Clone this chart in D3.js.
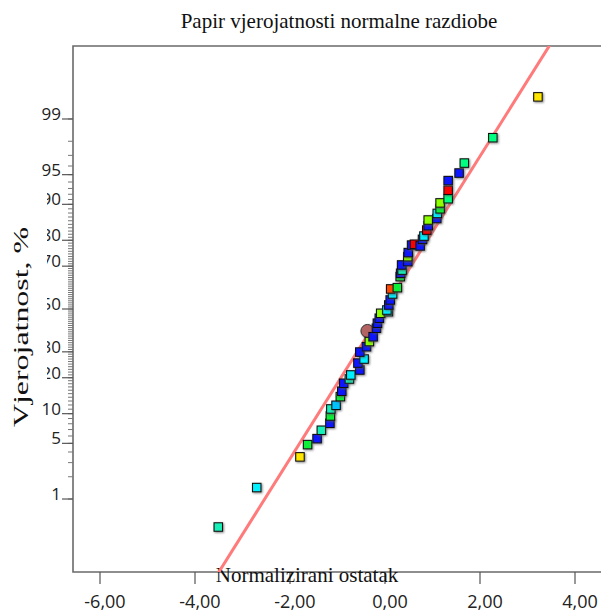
<!DOCTYPE html>
<html>
<head>
<meta charset="utf-8">
<script src="https://cdn.jsdelivr.net/npm/d3@7"></script>
<style>
  body { margin: 0; background: #fff; }
  .tick-label { font-family: 'Open Sans', sans-serif; font-size: 17px; fill: #222; }
  .xlab { font-size: 18px; }
  .title { font-family: 'Liberation Serif', serif; font-size: 21px; fill: #111; }
</style>
</head>
<body>
<svg width="601" height="614"></svg>
<script>
const svg = d3.select('svg')

// normalized residuals (x) and cumulative probability in % (y)
const residuals = [-3.51, -2.70, -1.79, -1.63, -1.43, -1.34, -1.16, -1.15, -1.14, -1.03,
  -0.94, -0.91, -0.87, -0.75, -0.72, -0.53, -0.57, -0.44, -0.53, -0.39,
  -0.33, -0.25, -0.18, -0.16, -0.12, -0.09, 0.07, 0.04, 0.08, 0.11,
  0.16, 0.12, 0.26, 0.32, 0.33, 0.36, 0.35, 0.48, 0.48, 0.49,
  0.56, 0.62, 0.74, 0.79, 0.82, 0.88, 0.91, 0.91, 1.09, 1.10,
  1.16, 1.16, 1.33, 1.33, 1.33, 1.56, 1.67, 2.27, 3.22]
const probabilities = [0.38, 1.44, 3.51, 4.84, 5.62, 6.88, 8.09, 9.51, 11.05, 11.92,
  14.16, 15.7, 18.16, 19.57, 20.96, 22.76, 25.4, 27.0, 29.9, 32.2,
  34.5, 36.7, 40.7, 43.1, 45.5, 47.9, 48.7, 49.5, 51.95, 54.4,
  57.3, 59.7, 60.3, 65.4, 66.9, 68.3, 70.5, 71.9, 73.9, 75.5,
  78.3, 78.6, 78.0, 80.3, 81.4, 83.3, 84.6, 86.2, 86.6, 87.9,
  89.0, 90.3, 91.15, 92.7, 94.2, 95.2, 96.3, 98.2, 99.53]
// colour group of each run
const groups = ['A', 'C', 'Y', 'G', 'B', 'A', 'B', 'G', 'A', 'D',
  'G', 'B', 'B', 'A', 'C', 'B', 'B', 'C', 'B', 'B',
  'L', 'B', 'B', 'B', 'B', 'L', 'A', 'C', 'B', 'B',
  'C', 'O', 'G', 'G', 'B', 'A', 'B', 'B', 'L', 'B',
  'B', 'R', 'B', 'B', 'C', 'R', 'B', 'L', 'B', 'C',
  'G', 'L', 'S', 'R', 'B', 'B', 'S', 'S', 'Y']

// the highlighted run (circle)
const highlight = { residual: -0.37, probability: 39.4 }

// fitted normal line: residual = mean + sd * z
const lineMean = -0.02
const lineSD = 1.08

const xTicks = [-6, -4, -2, 0, 2, 4]
const yMajor = [1, 5, 10, 20, 30, 50, 70, 80, 90, 95, 99]
const yMinor = d3.range(1, 100)

const palette = {
  B: '#0a18ff', C: '#00f0ff', A: '#18f0b8', D: '#00c4ff', G: '#10ee38',
  S: '#00ff80', L: '#8cff00', Y: '#ffe600', O: '#ff4800', R: '#ff0000'
}

// inverse normal cdf (Acklam)
function probit(p) {
  const a = [-39.69683028665376, 220.9460984245205, -275.9285104469687, 138.3577518672690, -30.66479806614716, 2.506628277459239]
  const b = [-54.47609879822406, 161.5858368580409, -155.6989798598866, 66.80131188771972, -13.28068155288572]
  const c = [-0.007784894002430293, -0.3223964580411365, -2.400758277161838, -2.549732539343734, 4.374664141464968, 2.938163982698783]
  const d = [0.007784695709041462, 0.3224671290700398, 2.445134137142996, 3.754408661907416]
  const pl = 0.02425
  let q, r
  if (p < pl) {
    q = Math.sqrt(-2 * Math.log(p))
    return (((((c[0]*q+c[1])*q+c[2])*q+c[3])*q+c[4])*q+c[5]) / ((((d[0]*q+d[1])*q+d[2])*q+d[3])*q+1)
  } else if (p <= 1 - pl) {
    q = p - 0.5; r = q * q
    return (((((a[0]*r+a[1])*r+a[2])*r+a[3])*r+a[4])*r+a[5])*q / (((((b[0]*r+b[1])*r+b[2])*r+b[3])*r+b[4])*r+1)
  } else {
    q = Math.sqrt(-2 * Math.log(1 - p))
    return -(((((c[0]*q+c[1])*q+c[2])*q+c[3])*q+c[4])*q+c[5]) / ((((d[0]*q+d[1])*q+d[2])*q+d[3])*q+1)
  }
}

// plot frame
const plotLeft = 73, plotTop = 46, plotBottom = 572, plotRight = 640

const xScale = d3.scaleLinear().domain([-6, 4]).range([100, 575])
const zScale = d3.scaleLinear().domain([-3.22, 3.22]).range([plotBottom, plotTop])
const yScale = p => zScale(probit(p / 100))

const defs = svg.append('defs')
defs.append('clipPath').attr('id', 'plot-clip')
  .append('rect').attr('x', plotLeft).attr('y', plotTop)
  .attr('width', plotRight - plotLeft).attr('height', plotBottom - plotTop)
const shadow = defs.append('filter').attr('id', 'shadow')
  .attr('x', '-50%').attr('y', '-50%').attr('width', '200%').attr('height', '200%')
shadow.append('feDropShadow').attr('dx', 1).attr('dy', 1).attr('stdDeviation', 0.9)
  .attr('flood-color', '#555').attr('flood-opacity', 0.7)

// frame lines
svg.append('path')
  .attr('d', `M${plotRight},${plotTop}H${plotLeft}V${plotBottom}H${plotRight}`)
  .attr('fill', 'none').attr('stroke', '#6a6a6a').attr('stroke-width', 1.6)

// y axis ticks (probability scale)
svg.selectAll('line.ymin').data(yMinor).enter().append('line')
  .attr('class', 'ymin')
  .attr('x1', plotLeft - 5).attr('x2', plotLeft)
  .attr('y1', d => yScale(d)).attr('y2', d => yScale(d))
  .attr('stroke', '#777').attr('stroke-width', 1)
svg.selectAll('line.ymaj').data(yMajor).enter().append('line')
  .attr('class', 'ymaj')
  .attr('x1', plotLeft - 11).attr('x2', plotLeft)
  .attr('y1', d => yScale(d)).attr('y2', d => yScale(d))
  .attr('stroke', '#555').attr('stroke-width', 1.2)
svg.selectAll('text.ylab').data(yMajor).enter().append('text')
  .attr('class', 'ylab tick-label')
  .attr('x', plotLeft - 12)
  .attr('y', d => yScale(d) + 1)
  .attr('text-anchor', 'end')
  .text(d => d)

// x axis ticks
svg.selectAll('line.xt').data(xTicks).enter().append('line')
  .attr('class', 'xt')
  .attr('x1', d => xScale(d)).attr('x2', d => xScale(d))
  .attr('y1', plotBottom).attr('y2', plotBottom + 12)
  .attr('stroke', '#555').attr('stroke-width', 1.2)
svg.selectAll('text.xlab').data(xTicks).enter().append('text')
  .attr('class', 'xlab tick-label')
  .attr('x', d => xScale(d) + 5)
  .attr('y', 608)
  .attr('text-anchor', 'middle')
  .text(d => d3.format('.2f')(d).replace('.', ',').replace('−', '-'))

// white box over part of the y labels (as in the original rendering)
svg.append('rect').attr('x', 0).attr('y', 190).attr('width', 47).attr('height', 205).attr('fill', '#fff')

// titles
svg.append('text').attr('class', 'title')
  .attr('x', 339).attr('y', 28).attr('text-anchor', 'middle')
  .text('Papir vjerojatnosti normalne razdiobe')
svg.append('text').attr('class', 'title')
  .attr('x', 307).attr('y', 582).attr('text-anchor', 'middle')
  .text('Normalizirani ostatak')
svg.append('text').attr('class', 'title')
  .attr('transform', 'translate(28,327) rotate(-90)')
  .attr('text-anchor', 'middle')
  .attr('textLength', 200).attr('lengthAdjust', 'spacingAndGlyphs')
  .text('Vjerojatnost, %')

const plot = svg.append('g').attr('clip-path', 'url(#plot-clip)')

// fitted line
const zLine = [-3.6, 3.6]
plot.append('line')
  .attr('x1', xScale(lineMean + lineSD * zLine[0])).attr('y1', zScale(zLine[0]))
  .attr('x2', xScale(lineMean + lineSD * zLine[1])).attr('y2', zScale(zLine[1]))
  .attr('stroke', '#ff7a7a').attr('stroke-width', 3)

const points = residuals.map((r, i) => ({ r, p: probabilities[i], g: groups[i] }))

// highlighted run
plot.append('circle')
  .attr('cx', xScale(highlight.residual))
  .attr('cy', yScale(highlight.probability))
  .attr('r', 6.5)
  .attr('fill', '#b46464').attr('stroke', '#333').attr('stroke-width', 1)
  .attr('filter', 'url(#shadow)')

const size = 8.5
plot.selectAll('rect.pt').data(points).enter().append('rect')
  .attr('class', 'pt')
  .attr('x', d => xScale(d.r) - size / 2)
  .attr('y', d => yScale(d.p) - size / 2)
  .attr('width', size).attr('height', size)
  .attr('fill', d => palette[d.g])
  .attr('stroke', '#111').attr('stroke-width', 1.1)
  .attr('filter', 'url(#shadow)')
</script>
</body>
</html>
